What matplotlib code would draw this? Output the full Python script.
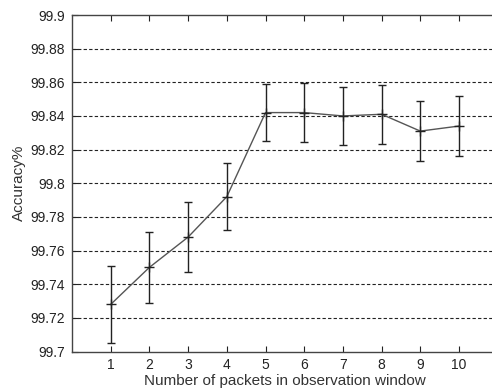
import matplotlib.pyplot as plt

# Datos
packets = [1, 2, 3, 4, 5, 6, 7, 8, 9, 10]
accuracy = [99.728, 99.750, 99.768, 99.792, 99.842, 99.842, 99.840, 99.841, 99.831, 99.834]
error = [0.023, 0.021, 0.021, 0.020, 0.017, 0.0175, 0.0175, 0.0175, 0.018, 0.0178]

y_ticks = [99.7, 99.72, 99.74, 99.76, 99.78, 99.8, 99.82, 99.84, 99.86, 99.88, 99.9]
y_labels = ['99.7', '99.72', '99.74', '99.76', '99.78', '99.8', '99.82', '99.84', '99.86', '99.88', '99.9']

plt.rcParams['font.family'] = ['Liberation Sans', 'DejaVu Sans']

fig = plt.figure(figsize=(4.92, 3.88), dpi=100)
ax = fig.add_axes([72 / 492, 1 - 351.5 / 388, (497.7 - 72) / 492, (351.5 - 15) / 388])

ax.errorbar(packets, accuracy, yerr=error, color='#555555', ecolor='#222222',
            elinewidth=1, capsize=3, capthick=1, linewidth=1,
            marker='+', markersize=7, markeredgecolor='#222222')

ax.set_xlim(0, 11)
ax.set_ylim(99.7, 99.9)
ax.set_xticks(packets)
ax.set_yticks(y_ticks)
ax.set_yticklabels(y_labels)

# Solo lineas horizontales punteadas
for y in y_ticks[1:-1]:
    ax.axhline(y, color='#222222', linestyle=(0, (3, 2)), linewidth=0.8, zorder=0)

ax.tick_params(direction='in', top=True, right=True, length=4, labelsize=10,
               colors='#222222', pad=5)
for s in ax.spines.values():
    s.set_color('#444444')
    s.set_linewidth(1)

ax.set_xlabel('Number of packets in observation window', fontsize=11, color='#333333', labelpad=1)
ax.set_ylabel('Accuracy%', fontsize=11, color='#333333', labelpad=3)

plt.savefig('out.png', dpi=100)
